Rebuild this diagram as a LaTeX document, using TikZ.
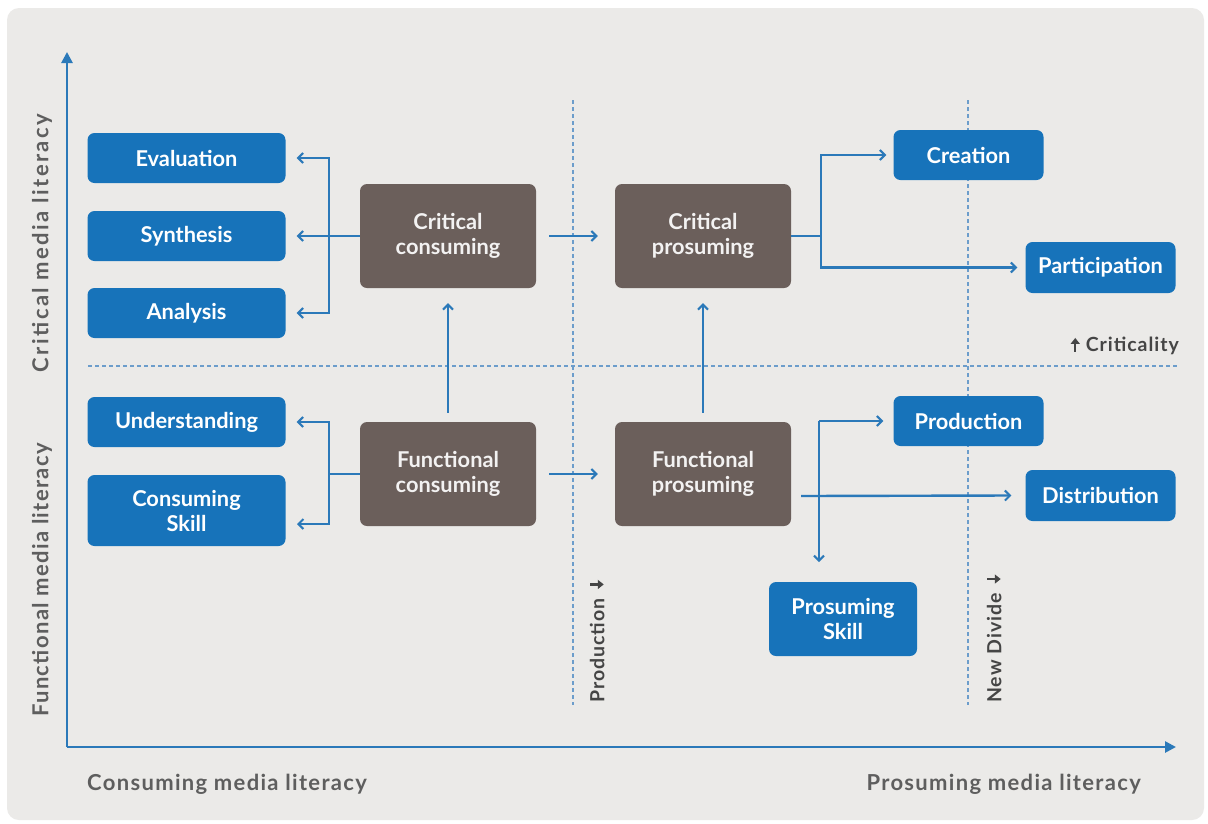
\documentclass[tikz,border=0pt]{standalone}
\usepackage{fontspec}
\setmainfont{Lato}
\usetikzlibrary{arrows.meta}
\definecolor{panel}{HTML}{EBEAE8}
\definecolor{boxblue}{HTML}{1773BA}
\definecolor{boxbrown}{HTML}{6B5F5B}
\definecolor{lineblue}{HTML}{2B79B9}
\definecolor{dashblue}{HTML}{6C9DCB}
\definecolor{labelgray}{HTML}{5E5E5E}
\definecolor{notegray}{HTML}{454545}
% small bold arrows set inline with the divide labels
\newcommand{\downmark}{\tikz[baseline={(0pt,0pt)}]\draw[notegray,line width=2.3pt,-{Triangle[length=6pt,width=9pt]}] (0pt,14pt) -- (0pt,0.5pt);}
\newcommand{\upmark}{\tikz[baseline={(0pt,0pt)}]\draw[notegray,line width=2.3pt,-{Triangle[length=6pt,width=9pt]}] (0pt,0pt) -- (0pt,14pt);}
\begin{document}
\begin{tikzpicture}[x=1pt,y=-1pt,
  barb/.tip={Straight Barb[length=5pt,width=10pt,line width=2pt]},
  axtip/.tip={Triangle[length=11pt,width=11pt]},
  leaf/.style={rectangle, rounded corners=7pt, fill=boxblue, text=white,
    font=\fontsize{21.8}{25}\selectfont\bfseries, align=center, inner sep=0pt},
  stage/.style={rectangle, rounded corners=7pt, fill=boxbrown, text=white!92!boxbrown,
    font=\fontsize{21.8}{25.5}\selectfont\bfseries, align=center,
    minimum width=176pt, minimum height=104pt, inner sep=0pt},
  conn/.style={draw=lineblue, line width=2.4pt},
  axis/.style={draw=lineblue, line width=2.6pt},
  guide/.style={draw=dashblue, line width=1.1pt, dash pattern=on 4pt off 3pt},
  axislab/.style={text=labelgray, font=\fontsize{22}{26}\selectfont\bfseries\addfontfeature{LetterSpace=6}, inner sep=0pt},
  divlab/.style={text=notegray, font=\fontsize{19.5}{22}\selectfont\bfseries\addfontfeature{LetterSpace=5}, inner sep=0pt},
]
\useasboundingbox (0,0) rectangle (1208,823);
\fill[white] (0,0) rectangle (1208,823);
\fill[panel, rounded corners=12pt] (7,8) rectangle (1204,820);

% guide lines
\draw[guide] (88,366) -- (1178,366);
\draw[guide] (573,100) -- (573,705);
\draw[guide] (968,100) -- (968,705);

% axes
\coordinate (origin) at (67,747);
\coordinate (ytop) at (67,52);
\coordinate (xend) at (1176,747);
\draw[axis,-axtip] (origin) -- (ytop);
\draw[axis,-axtip] (origin) -- (xend);

% axis labels
\node[axislab, rotate=90, font=\fontsize{22}{26}\selectfont\bfseries\addfontfeature{LetterSpace=11}] (ycrit) at (42,243) {Critical media literacy};
\node[axislab, rotate=90] (yfunc) at (42,580) {Functional media literacy};
\node[axislab, anchor=west] (xcons) at (87,784) {Consuming media literacy};
\node[axislab, anchor=east] (xpros) at (1141,784) {Prosuming media literacy};

% divide labels
\node[divlab, rotate=90, anchor=west] (prodlab) at (597,703) {Production\enspace\downmark};
\node[divlab, rotate=90, anchor=west] (newdiv) at (994,703) {New Divide\enspace\downmark};
\node[divlab, anchor=east] (crit) at (1179,346) {\upmark\hspace{6pt}Criticality};

% left column
\node[leaf, minimum width=198pt, minimum height=50pt] (eval) at (186.5,158) {Evaluation};
\node[leaf, minimum width=198pt, minimum height=50pt] (synth) at (186.5,236) {Synthesis};
\node[leaf, minimum width=198pt, minimum height=50pt] (anal) at (186.5,313) {Analysis};
\node[leaf, minimum width=198pt, minimum height=50pt] (under) at (186.5,422) {Understanding};
\node[leaf, minimum width=198pt, minimum height=71pt] (cskill) at (186.5,510.5) {Consuming\\Skill};

% stages
\node[stage] (cc) at (448,236) {Critical\\consuming};
\node[stage] (fc) at (448,474) {Functional\\consuming};
\node[stage] (cp) at (703,236) {Critical\\prosuming};
\node[stage] (fp) at (703,474) {Functional\\prosuming};

% right side
\node[leaf, minimum width=150pt, minimum height=50pt] (creat) at (968.5,155) {Creation};
\node[leaf, minimum width=150pt, minimum height=51pt] (partic) at (1100.5,267.5) {Participation};
\node[leaf, minimum width=150pt, minimum height=50pt] (produc) at (968.5,421) {Production};
\node[leaf, minimum width=150pt, minimum height=51pt] (distr) at (1100.5,495.5) {Distribution};
\node[leaf, minimum width=148pt, minimum height=74pt] (pskill) at (843,619) {Prosuming\\Skill};

% critical consuming fan-out
\coordinate (kc) at (329,236);
\draw[conn,-barb] (cc.west) -- ([xshift=11pt]synth.east);
\draw[conn,barb-barb] ([xshift=11pt]eval.east) -| (kc) |- ([xshift=11pt]anal.east);

% functional consuming fan-out
\coordinate (kf) at (329,474);
\coordinate (kfs) at (297,524);
\draw[conn] (fc.west) -- (kf);
\draw[conn,barb-barb] ([xshift=11pt]under.east) -| (kf) |- (kfs);

% stage transitions
\draw[conn,-barb,shorten <=13pt,shorten >=17pt] (cc) -- (cp);
\draw[conn,-barb,shorten <=13pt,shorten >=17pt] (fc) -- (fp);
\draw[conn,-barb,shorten <=9pt,shorten >=15pt] (fc) -- (cc);
\draw[conn,-barb,shorten <=9pt,shorten >=15pt] (fp) -- (cp);

% critical prosuming fan-out
\coordinate (kp) at (821,236);
\draw[conn] (cp.east) -- (kp);
\draw[conn,-barb] (kp) |- ([xshift=-7pt]creat.west);
\draw[conn,-barb] (kp) |- ([xshift=-8pt]partic.west);

% functional prosuming fan-out
\coordinate (kq) at (819,421);
\coordinate (kqs) at (819,562);
\coordinate (kd) at (801,496);
\draw[conn,-barb] (kq) -- ([xshift=-10pt]produc.west);
\draw[conn,-barb] (kq) -- (kqs);
\draw[conn,-barb] (kd) -- ([xshift=-14pt]distr.west);
\end{tikzpicture}
\end{document}
